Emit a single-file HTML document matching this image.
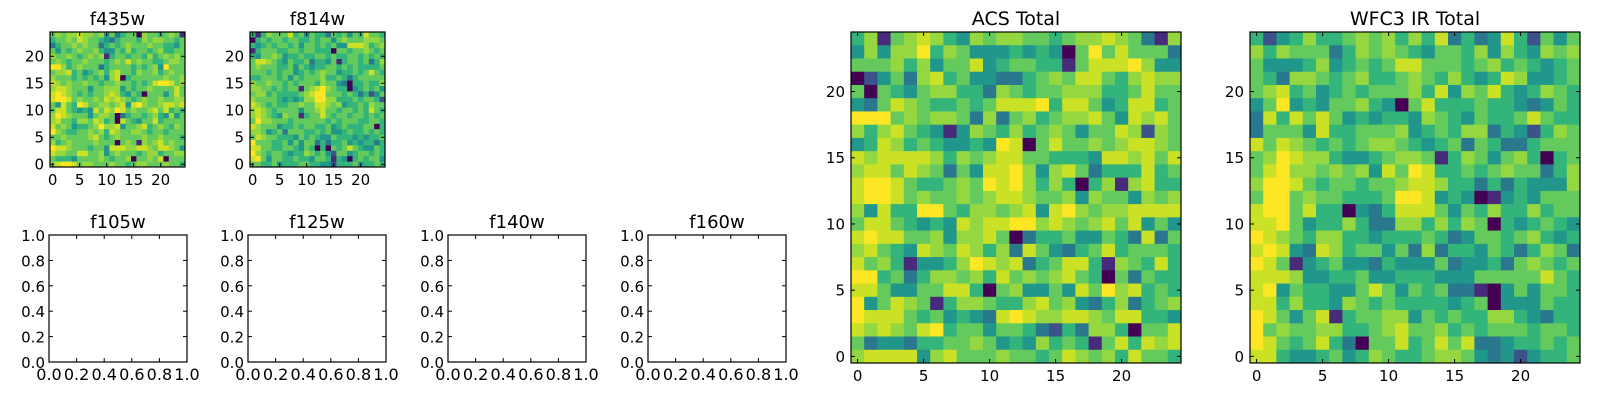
<!DOCTYPE html>
<html><head><meta charset="utf-8"><style>
html,body{margin:0;padding:0;background:#fff;}
svg{display:block;font-family:"DejaVu Sans","Liberation Sans",sans-serif;}
</style></head><body>
<svg id="fig" width="1600" height="400" viewBox="0 0 1600 400" xmlns="http://www.w3.org/2000/svg"></svg>
<script>
// ---- data (rows listed top row first = y 24 down to y 0), digit = intensity level 0..9
const f435Rows = ["6767787767463566076656761","5667687665435666576776656","3566767663565676667665546","6465676675446575665675566","7667656767156656657567676","6765667666567686766556776","9975676663566665656749666","6778564567578665766756766","7666565656478056666667667","8767667665667665656899867","7887666466777465667666686","8987656566787546506664686","8998676676878765676676677","6486598667767848976678878","6886545486879867667868565","7987666467760356656754746","7866577687560865466856666","8676455679778466785676576","9765566767587667765665666","6676666786567666676676665","7567666676660676176786766","9887666566488877887688764","8776688667467666567756677","6555466667656670667680666","7899867766676656776667665"];
const f814Rows = ["5157666856465536564658665","0565665665565664676667776","5456566564665656448887567","1566655665665550665667656","5466764556556656556656565","6887654655635546156656357","6766655646545566565655556","6665656645656766455656865","5566656465666755653566666","7667665656665766430556557","7766565661678976550456564","6775655556789966656535246","7666654545779977555656652","8765655667668876745565766","7876566664667866566565865","7876547661566865665665656","6977666566666656566655665","8766645565665564565556605","7764563666556564456556565","6876655546565446555454556","9666556464663535564545535","8866556654650506568654465","9765665455765642664566565","8964665565546651540565664","6655645556655442555645565"];
const acsRows = ["5716787547677665677876317","4747795764445454069686663","6667574668456655168889744","0246378564433567688657877","6065467755376566777556866","4368765565688895886458856","9996767763736756778648786","7578654147657567646687276","4587565445498068667678876","8788887576788665554887868","7886876364889747863555856","8998655676989757505717855","8998676676788766747664767","7485599657767848976778888","6886545487889978767868464","8988667477860355644653836","7865487687573864356856665","8675144579878356885176585","9956357767586767865063655","8864466885067446486978565","9468761577655786743573567","9888656454389877887688554","8787689566466532537750668","6344355667645475651685878","7888847866676656876758665"];
const wfc3Rows = ["5245755676757583534852646","7576663576765466574754767","6444574565688666567565456","6537765675567657545874456","6785645656667584768545765","4694546675406855565543465","3858686454554765465568655","3666485566674565773542576","8687656567765456365335666","6798775445677615764675056","6897767674869855656766357","7998656656678875535354447","6996766555699845401454666","8996855043588864657557566","8896455753377575760545654","9876577554555653466567545","8984387566463735546535763","9861456443544463445367656","8887445564455544466666865","8946554468646563310464665","8857554765655554560444655","9864681566774656557754355","9676677556786675656665665","9865685306685686833455656","8854456457655677643424556"];
const imgTicks = [0,5,10,15,20];
const smallTickLabels = ["0","5","10","15","20"];
const bigTicks = [0,5,10,15,20];
const emptyTicks = [0,0.2,0.4,0.6,0.8,1.0];
const emptyTickLabels = ["0.0","0.2","0.4","0.6","0.8","1.0"];

const NS="http://www.w3.org/2000/svg";
const svg=document.getElementById('fig');
const stops=["#440154","#482475","#414487","#355f8d","#2a788e","#21918c","#22a884","#44bf70","#7ad151","#bddf26","#fde725"];
const levelT=[0,0.12,0.25,0.4,0.52,0.65,0.76,0.84,0.92,1.0];
function hex(c){return [1,3,5].map(i=>parseInt(c.substr(i,2),16));}
function viridis(t){t=Math.max(0,Math.min(1,t));const p=t*10,i=Math.min(9,Math.floor(p)),f=p-i;const a=hex(stops[i]),b=hex(stops[i+1]);return "rgb("+a.map((v,k)=>Math.round(v+(b[k]-v)*f)).join(",")+")";}
function el(tag,attrs,parent){const e=document.createElementNS(NS,tag);for(const k in attrs)e.setAttribute(k,attrs[k]);(parent||svg).appendChild(e);return e;}

function panel(name,x0,y0,w,h,title,tsize){
  const g=el('g',{});
  
  
  const t=el('text',{x:x0+w/2,y:y0-7,'text-anchor':'middle','font-size':tsize,fill:'#000'},g);
  t.textContent=title;
  
  
  return g;
}
function frame(g,x0,y0,w,h){
  const r=el('rect',{x:x0,y:y0,width:w,height:h,fill:'none',stroke:'#000','stroke-width':1.2},g);
  
  
}
function heatmap(name,rows,x0,y0,w,h,title,tsize,ticks,labels,fs){
  const g=panel(name,x0,y0,w,h,title,tsize);
  const n=rows.length,m=rows[0].length;
  const xs=v=>x0+(v+0.5)/m*w, ys=v=>y0+h-(v+0.5)/n*h;
  const cw=w/m,ch=h/n;
  for(let r=0;r<n;r++){for(let c=0;c<m;c++){
    const yv=n-1-r; const d=+rows[r][c];
    const cell=el('rect',{x:(xs(c)-cw/2).toFixed(2),y:(ys(yv)-ch/2).toFixed(2),width:(cw+0.4).toFixed(2),height:(ch+0.4).toFixed(2),fill:viridis(levelT[d])},g);
    
    
  }}
  frame(g,x0,y0,w,h);
  ticks.forEach((v,i)=>{
    const X=xs(v),Y=ys(v);
    el('line',{x1:X,y1:y0+h,x2:X,y2:y0+h-4,stroke:'#000'},g);
    el('line',{x1:X,y1:y0,x2:X,y2:y0+4,stroke:'#000'},g);
    el('line',{x1:x0,y1:Y,x2:x0+4,y2:Y,stroke:'#000'},g);
    el('line',{x1:x0+w,y1:Y,x2:x0+w-4,y2:Y,stroke:'#000'},g);
    const tx=el('text',{x:X,y:y0+h+fs+3,'text-anchor':'middle','font-size':fs},g);
    tx.textContent=labels[i];
    
    
    const ty=el('text',{x:x0-6,y:Y+fs*0.36,'text-anchor':'end','font-size':fs},g);
    ty.textContent=labels[i];
    
    
  });
}
function emptyAxes(name,x0,y0,w,h,title){
  const g=panel(name,x0,y0,w,h,title,18);
  frame(g,x0,y0,w,h);
  const xs=v=>x0+v*w, ys=v=>y0+h-v*h;
  emptyTicks.forEach((v,i)=>{
    const X=xs(v),Y=ys(v);
    el('line',{x1:X,y1:y0+h,x2:X,y2:y0+h-4,stroke:'#000'},g);
    el('line',{x1:X,y1:y0,x2:X,y2:y0+4,stroke:'#000'},g);
    el('line',{x1:x0,y1:Y,x2:x0+4,y2:Y,stroke:'#000'},g);
    el('line',{x1:x0+w,y1:Y,x2:x0+w-4,y2:Y,stroke:'#000'},g);
    const tx=el('text',{x:X,y:y0+h+18,'text-anchor':'middle','font-size':16},g);
    tx.textContent=emptyTickLabels[i];
    
    
    const ty=el('text',{x:x0-4,y:Y+6,'text-anchor':'end','font-size':15},g);
    ty.textContent=emptyTickLabels[i];
    
    
  });
}
heatmap('f435w',f435Rows,50,32,135,135,'f435w',18,imgTicks,smallTickLabels,15);
heatmap('f814w',f814Rows,250,32,135,135,'f814w',18,imgTicks,smallTickLabels,15);
emptyAxes('f105w',49,235,138,127,'f105w');
emptyAxes('f125w',248,235,138,127,'f125w');
emptyAxes('f140w',448,235,138,127,'f140w');
emptyAxes('f160w',648,235,138,127,'f160w');
heatmap('acs-total',acsRows,851,32,330,331,'ACS Total',19,bigTicks,smallTickLabels,15);
heatmap('wfc3-ir-total',wfc3Rows,1250,32,330,331,'WFC3 IR Total',19,bigTicks,smallTickLabels,15);
</script>
</body></html>
